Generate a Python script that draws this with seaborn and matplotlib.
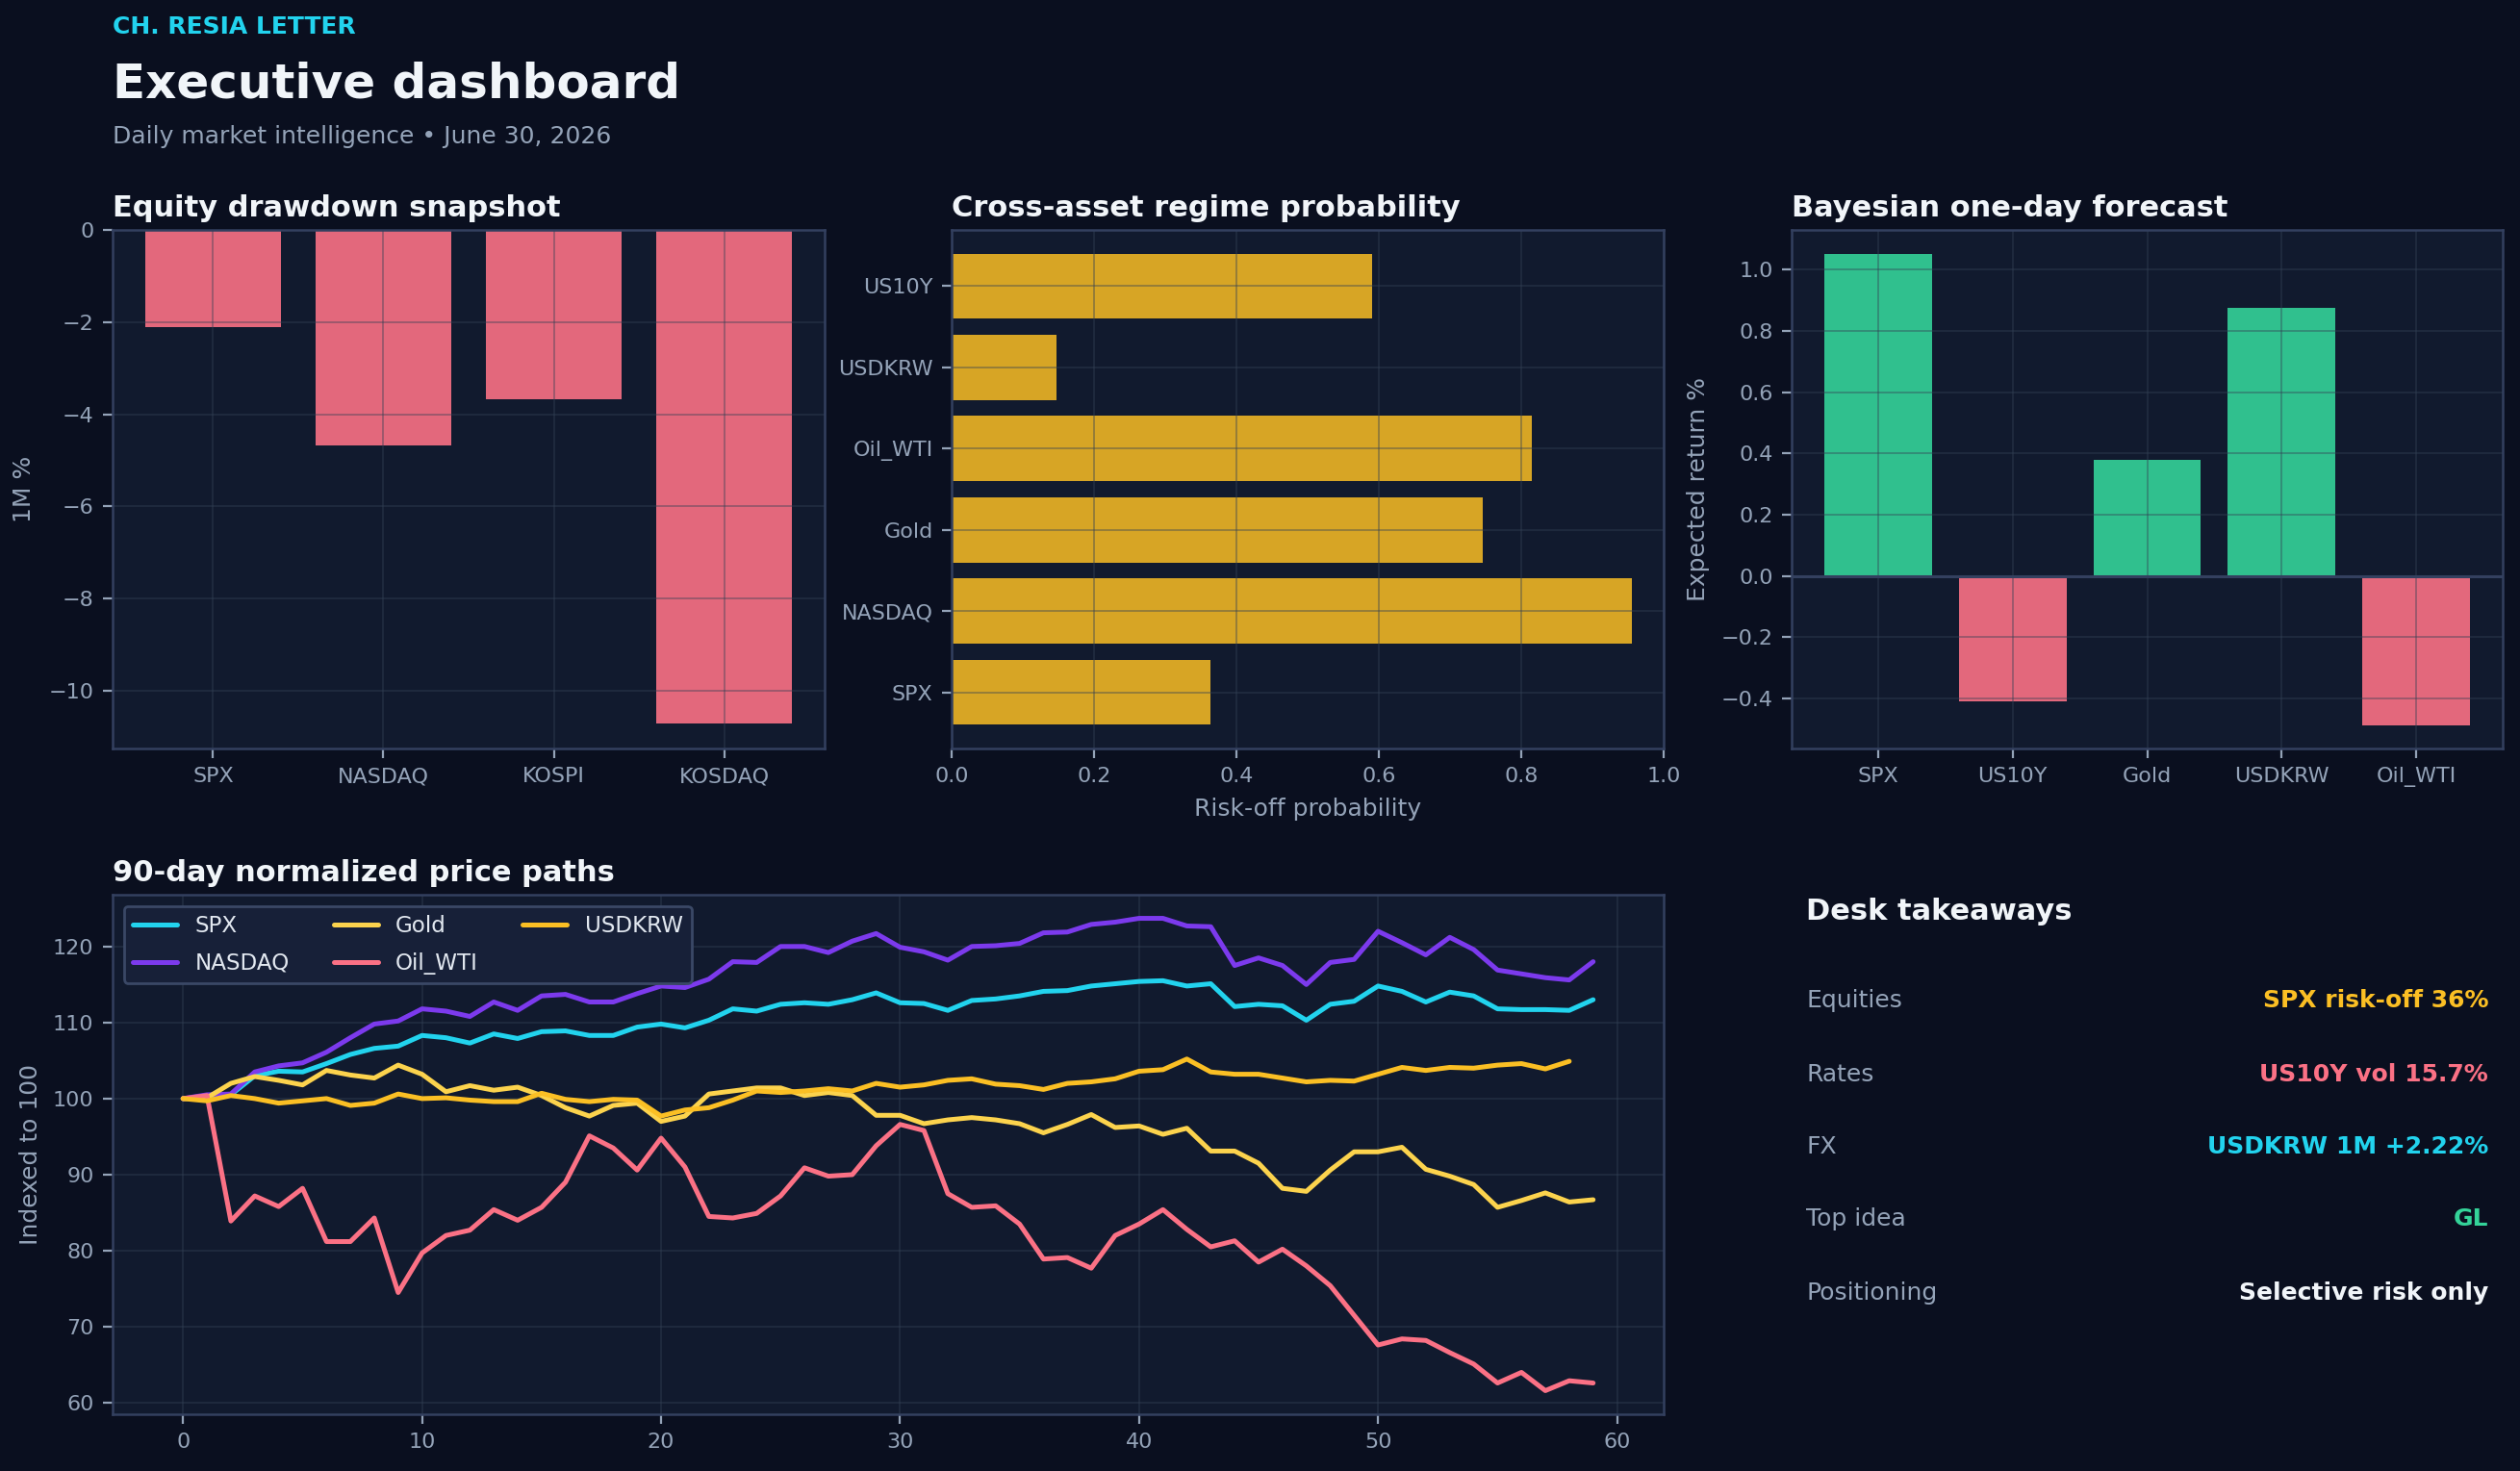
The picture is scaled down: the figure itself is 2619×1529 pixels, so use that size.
import matplotlib
matplotlib.use("Agg")
import matplotlib.pyplot as plt
import numpy as np
import pandas as pd
import seaborn as sns

# ---------------- data ----------------
drawdown_assets = ["SPX", "NASDAQ", "KOSPI", "KOSDAQ"]
drawdown_1m = [-2.10, -4.68, -3.68, -10.72]

# bottom-to-top order as displayed
regime_assets = ["SPX", "NASDAQ", "Gold", "Oil_WTI", "USDKRW", "US10Y"]
regime_prob = [0.364, 0.955, 0.746, 0.815, 0.147, 0.591]

forecast_assets = ["SPX", "US10Y", "Gold", "USDKRW", "Oil_WTI"]
forecast_ret = [1.053, -0.410, 0.379, 0.877, -0.486]

spx = [100.0, 100.2, 100.5, 103.0, 103.6, 103.5, 104.6, 105.8, 106.6, 106.9,
       108.3, 108.0, 107.3, 108.5, 107.9, 108.8, 108.9, 108.3, 108.3, 109.4,
       109.8, 109.3, 110.3, 111.8, 111.5, 112.4, 112.6, 112.4, 113.0, 113.9,
       112.6, 112.5, 111.6, 112.9, 113.1, 113.5, 114.1, 114.2, 114.8, 115.1,
       115.4, 115.5, 114.8, 115.1, 112.1, 112.4, 112.2, 110.3, 112.4, 112.8,
       114.8, 114.1, 112.7, 114.0, 113.5, 111.8, 111.7, 111.7, 111.6, 113.0]
nasdaq = [100.0, 100.5, 100.6, 103.5, 104.3, 104.7, 106.1, 108.0, 109.8, 110.2,
          111.8, 111.5, 110.8, 112.7, 111.6, 113.5, 113.7, 112.7, 112.7, 113.8,
          114.8, 114.6, 115.7, 118.0, 117.9, 120.0, 120.0, 119.2, 120.7, 121.7,
          119.9, 119.3, 118.2, 120.0, 120.1, 120.4, 121.8, 121.9, 122.9, 123.2,
          123.7, 123.7, 122.7, 122.6, 117.5, 118.5, 117.5, 115.0, 117.9, 118.3,
          122.0, 120.5, 118.9, 121.2, 119.6, 116.9, 116.4, 115.9, 115.6, 118.0]
gold = [100.0, 100.1, 102.0, 102.9, 102.4, 101.8, 103.7, 103.1, 102.7, 104.4,
        103.2, 100.9, 101.7, 101.1, 101.5, 100.4, 98.8, 97.7, 99.1, 99.4,
        97.0, 97.7, 100.6, 101.0, 101.4, 101.4, 100.4, 100.8, 100.4, 97.8,
        97.8, 96.7, 97.2, 97.5, 97.2, 96.7, 95.5, 96.6, 97.9, 96.2,
        96.4, 95.3, 96.1, 93.1, 93.1, 91.5, 88.2, 87.8, 90.6, 93.0,
        93.0, 93.6, 90.7, 89.8, 88.7, 85.7, 86.6, 87.6, 86.4, 86.7]
oil_wti = [100.0, 100.4, 83.9, 87.2, 85.8, 88.2, 81.2, 81.2, 84.3, 74.5,
           79.7, 82.0, 82.7, 85.4, 84.0, 85.7, 89.0, 95.1, 93.5, 90.6,
           94.8, 91.0, 84.5, 84.3, 84.9, 87.2, 90.9, 89.8, 90.0, 93.8,
           96.6, 95.8, 87.5, 85.7, 85.9, 83.5, 78.9, 79.1, 77.7, 82.0,
           83.5, 85.4, 82.8, 80.5, 81.3, 78.5, 80.2, 78.0, 75.4, 71.5,
           67.6, 68.4, 68.2, 66.6, 65.1, 62.6, 64.0, 61.6, 62.9, 62.6]
usdkrw = [100.0, 99.7, 100.4, 100.0, 99.4, 99.7, 100.0, 99.1, 99.4, 100.6,
          100.0, 100.1, 99.8, 99.6, 99.6, 100.7, 99.9, 99.6, 99.9, 99.8,
          97.7, 98.5, 98.8, 99.8, 101.0, 100.8, 101.0, 101.3, 101.0, 102.0,
          101.5, 101.8, 102.4, 102.6, 101.9, 101.7, 101.2, 102.0, 102.2, 102.6,
          103.6, 103.8, 105.2, 103.5, 103.2, 103.2, 102.7, 102.2, 102.4, 102.3,
          103.2, 104.1, 103.7, 104.1, 104.0, 104.4, 104.6, 103.9, 104.9]

series_names = ["SPX", "NASDAQ", "Gold", "Oil_WTI", "USDKRW"]
series_values = [spx, nasdaq, gold, oil_wti, usdkrw]

takeaway_labels = ["Equities", "Rates", "FX", "Top idea", "Positioning"]
takeaway_values = ["SPX risk-off 36%", "US10Y vol 15.7%", "USDKRW 1M +2.22%", "GL", "Selective risk only"]

# ---------------- style ----------------
BG = "#0a0f1f"
PANEL = "#111a2e"
SPINE = "#33405f"
GRID = "#334155"
TEXT = "#f1f5f9"
MUTED = "#94a3b8"
CYAN = "#22d3ee"
PURPLE = "#7c3aed"
GOLDC = "#fcd34d"
AMBER = "#fbbf24"
ROSE = "#fb7185"
GREEN = "#34d399"

sns.set_theme(style="darkgrid")
plt.rcParams["font.family"] = ["DejaVu Sans"]
plt.rcParams["axes.unicode_minus"] = True

fig = plt.figure(figsize=(13.095, 7.645), dpi=200, facecolor=BG)

W, H = 2619.0, 1529.0
def box(x0, y0, x1, y1):
    return [x0 / W, 1 - y1 / H, (x1 - x0) / W, (y1 - y0) / H]

ax1 = fig.add_axes(box(117, 239, 857, 778))
ax2 = fig.add_axes(box(989, 239, 1729, 778))
ax3 = fig.add_axes(box(1862, 239, 2601, 778))
ax4 = fig.add_axes(box(117, 930, 1729, 1470))


def style(ax):
    ax.set_facecolor(PANEL)
    for s in ax.spines.values():
        s.set_visible(True)
        s.set_color(SPINE)
        s.set_linewidth(0.9)
    ax.tick_params(axis="both", which="major", colors=MUTED, labelcolor=MUTED,
                   labelsize=8, length=3.5, width=0.8, direction="out",
                   bottom=True, left=True)
    ax.grid(True, color=GRID, alpha=0.4, linewidth=0.7)
    ax.set_axisbelow("line")


def title(ax, t):
    ax.set_title(t, loc="left", fontsize=11, fontweight="bold", color=TEXT, pad=5)


# ---- Equity drawdown ----
sns.barplot(x=drawdown_assets, y=drawdown_1m, color=ROSE, saturation=1,
            alpha=0.9, linewidth=0, ax=ax1)
style(ax1)
n = len(drawdown_assets)
m = 0.05 * (n - 1 + 0.8)
ax1.set_xlim(-0.4 - m, n - 1 + 0.4 + m)
ax1.set_ylim(min(drawdown_1m) * 1.05, 0)
ax1.set_ylabel("1M %", fontsize=9, color=MUTED, labelpad=5)
ax1.set_xlabel("")
title(ax1, "Equity drawdown snapshot")

# ---- Regime probability ----
top_down_assets = list(reversed(regime_assets))
top_down_prob = list(reversed(regime_prob))
sns.barplot(x=top_down_prob, y=top_down_assets, orient="h", color=AMBER,
            saturation=1, alpha=0.85, linewidth=0, ax=ax2)
style(ax2)
n = len(regime_assets)
m = 0.05 * (n - 1 + 0.8)
ax2.set_ylim(n - 1 + 0.4 + m, -0.4 - m)
ax2.set_xlim(0, 1)
ax2.set_xticks([0.0, 0.2, 0.4, 0.6, 0.8, 1.0])
ax2.set_xlabel("Risk-off probability", fontsize=9, color=MUTED)
ax2.set_ylabel("")
title(ax2, "Cross-asset regime probability")

# ---- Forecast ----
fc_colors = [GREEN if v >= 0 else ROSE for v in forecast_ret]
sns.barplot(x=forecast_assets, y=forecast_ret, hue=forecast_assets,
            palette=fc_colors, saturation=1, alpha=0.9, linewidth=0,
            legend=False, ax=ax3)
style(ax3)
n = len(forecast_assets)
m = 0.05 * (n - 1 + 0.8)
ax3.set_xlim(-0.4 - m, n - 1 + 0.4 + m)
span = max(forecast_ret) - min(forecast_ret)
ax3.set_ylim(min(forecast_ret) - 0.05 * span, max(forecast_ret) + 0.05 * span)
ax3.axhline(0, color=SPINE, linewidth=1.1, zorder=3)
ax3.set_ylabel("Expected return %", fontsize=9, color=MUTED)
ax3.set_xlabel("")
title(ax3, "Bayesian one-day forecast")

# ---- Price paths ----
rows = []
for name, vals in zip(series_names, series_values):
    for i, v in enumerate(vals):
        rows.append({"day": i, "value": v, "asset": name})
df = pd.DataFrame(rows)
palette = {"SPX": CYAN, "NASDAQ": PURPLE, "Gold": GOLDC, "Oil_WTI": ROSE, "USDKRW": AMBER}
sns.lineplot(data=df, x="day", y="value", hue="asset", hue_order=series_names,
             palette=palette, linewidth=1.8, estimator=None, errorbar=None, ax=ax4)
style(ax4)
ax4.margins(x=0.05, y=0.05)
ax4.set_xticks([0, 10, 20, 30, 40, 50, 60])
ax4.set_yticks([60, 70, 80, 90, 100, 110, 120])
ax4.set_xlabel("")
ax4.set_ylabel("Indexed to 100", fontsize=9, color=MUTED)
handles, labels = ax4.get_legend_handles_labels()
leg = ax4.legend(handles, labels, ncol=3, loc="upper left", fontsize=8.3,
                 labelspacing=0.7, frameon=True, facecolor="#172038",
                 edgecolor="#3a4866", framealpha=1, labelcolor="#e2e8f0", title=None)
for h in leg.get_lines():
    h.set_linewidth(1.8)
title(ax4, "90-day normalized price paths")

# ---- Header ----
fig.text(117 / W, 1 - 28 / H, "CH. RESIA LETTER", color=CYAN, fontsize=9,
         fontweight="bold", va="center", ha="left")
fig.text(117 / W, 1 - 87 / H, "Executive dashboard", color=TEXT, fontsize=18,
         fontweight="bold", va="center", ha="left")
fig.text(117 / W, 1 - 142 / H, "Daily market intelligence \u2022 June 30, 2026",
         color=MUTED, fontsize=9, va="center", ha="left")

# ---- Desk takeaways ----
fig.text(1877 / W, 1 - 948 / H, "Desk takeaways", color=TEXT, fontsize=11,
         fontweight="bold", va="center", ha="left")
value_colors = [AMBER, ROSE, CYAN, GREEN, TEXT]
row_y = [1040, 1117, 1192, 1267, 1344]
for lab, val, col, y in zip(takeaway_labels, takeaway_values, value_colors, row_y):
    fig.text(1877 / W, 1 - y / H, lab, color=MUTED, fontsize=9, va="center", ha="left")
    fig.text(2586 / W, 1 - y / H, val, color=col, fontsize=9, fontweight="bold",
             va="center", ha="right")

fig.savefig("out.png", dpi=200, facecolor=BG)
